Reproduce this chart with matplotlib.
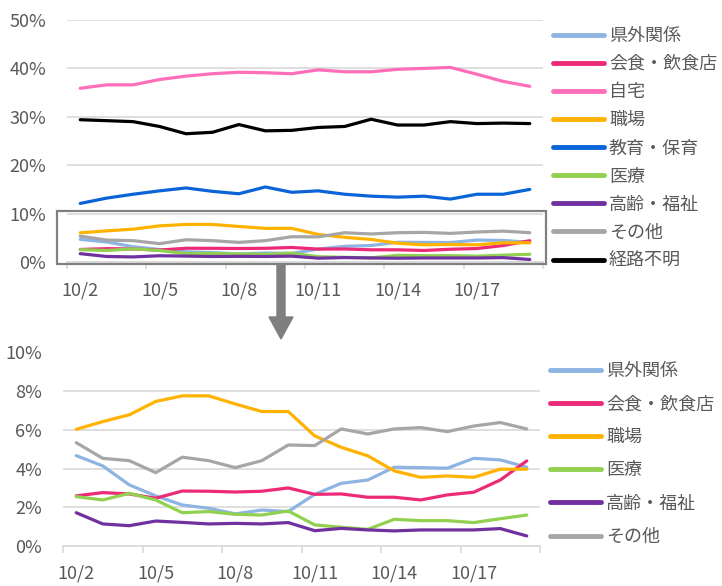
import numpy as np
import matplotlib
matplotlib.use('Agg')
import matplotlib.pyplot as plt
from matplotlib.patches import Rectangle, FancyArrow
from matplotlib.ticker import FuncFormatter, FixedLocator

plt.rcParams['font.family'] = ['Noto Sans CJK JP', 'DejaVu Sans']

dates = ['10/2', '10/3', '10/4', '10/5', '10/6', '10/7', '10/8', '10/9', '10/10',
         '10/11', '10/12', '10/13', '10/14', '10/15', '10/16', '10/17', '10/18', '10/19']

# 感染経路別の割合 (%)
kengai = [4.67, 4.14, 3.16, 2.59, 2.12, 1.95, 1.66, 1.86, 1.78, 2.67, 3.24, 3.41, 4.07, 4.05, 4.02, 4.53, 4.45, 4.07]
kaishoku = [2.59, 2.76, 2.69, 2.47, 2.84, 2.83, 2.79, 2.83, 3.00, 2.67, 2.69, 2.52, 2.52, 2.38, 2.64, 2.78, 3.41, 4.40]
jitaku = [35.9, 36.6, 36.6, 37.7, 38.4, 38.9, 39.2, 39.1, 38.9, 39.7, 39.3, 39.3, 39.8, 40.0, 40.2, 38.8, 37.3, 36.3]
shokuba = [6.03, 6.43, 6.78, 7.47, 7.76, 7.76, 7.34, 6.95, 6.95, 5.69, 5.10, 4.66, 3.88, 3.55, 3.62, 3.55, 3.97, 3.97]
kyoiku = [12.1, 13.2, 14.0, 14.7, 15.3, 14.6, 14.1, 15.5, 14.4, 14.7, 14.0, 13.6, 13.4, 13.6, 13.0, 14.0, 14.0, 15.0]
iryo = [2.55, 2.38, 2.72, 2.38, 1.72, 1.78, 1.64, 1.60, 1.81, 1.09, 0.97, 0.86, 1.38, 1.31, 1.31, 1.21, 1.41, 1.60]
koreifukushi = [1.72, 1.14, 1.05, 1.29, 1.22, 1.14, 1.17, 1.14, 1.21, 0.79, 0.91, 0.83, 0.78, 0.83, 0.83, 0.83, 0.90, 0.52]
sonota = [5.34, 4.53, 4.41, 3.79, 4.59, 4.41, 4.05, 4.41, 5.22, 5.19, 6.05, 5.79, 6.05, 6.12, 5.91, 6.20, 6.38, 6.05]
fumei = [29.4, 29.2, 29.0, 28.0, 26.5, 26.8, 28.4, 27.1, 27.2, 27.8, 28.0, 29.5, 28.3, 28.3, 29.0, 28.6, 28.7, 28.6]

series = [
    ('県外関係', kengai, '#8DB4E2'),
    ('会食・飲食店', kaishoku, '#EC2A78'),
    ('自宅', jitaku, '#FF6EB9'),
    ('職場', shokuba, '#FFB300'),
    ('教育・保育', kyoiku, '#0A64D8'),
    ('医療', iryo, '#92D050'),
    ('高齢・福祉', koreifukushi, '#7030A0'),
    ('その他', sonota, '#A6A6A6'),
    ('経路不明', fumei, '#000000'),
]
zoom_names = ['県外関係', '会食・飲食店', '職場', '医療', '高齢・福祉', 'その他']

W, H = 722, 586
fig = plt.figure(figsize=(W / 100, H / 100), dpi=100)
ax1 = fig.add_axes([67 / W, 1 - 262 / H, 476 / W, 242 / H])
ax2 = fig.add_axes([63 / W, 1 - 546 / H, 477 / W, 193.5 / H])

x = np.arange(len(dates))
txt = '#595959'
grid = '#D9D9D9'


def style(ax, ymax, step, xpad):
    ax.set_xlim(-0.5, len(dates) - 0.5)
    ax.set_ylim(0, ymax)
    ax.set_yticks(np.arange(0, ymax + 0.01, step))
    ax.yaxis.set_major_formatter(FuncFormatter(lambda v, p: '%d%%' % round(v)))
    ax.grid(axis='y', color=grid, lw=1.2)
    ax.set_axisbelow(True)
    for s in ['left', 'right', 'top']:
        ax.spines[s].set_visible(False)
    ax.spines['bottom'].set_color(grid)
    ax.spines['bottom'].set_linewidth(1.2)
    ax.xaxis.set_major_locator(FixedLocator(x[::3]))
    ax.set_xticklabels(dates[::3])
    ax.xaxis.set_minor_locator(FixedLocator(np.arange(-0.5, len(dates), 3)))
    ax.tick_params(axis='x', which='major', length=0, pad=xpad, labelsize=13, labelcolor=txt)
    ax.tick_params(axis='x', which='minor', length=5, width=1.2, color=grid, direction='out')
    ax.tick_params(axis='y', length=0, pad=15, labelsize=13, labelcolor=txt)
    ax.set_facecolor('none')


style(ax1, 50, 10, 14)
style(ax2, 10, 2, 13)

for name, vals, c in series:
    ax1.plot(x, vals, color=c, lw=2.3, label=name, solid_capstyle='round', clip_on=False)
for name, vals, c in series:
    if name in zoom_names:
        ax2.plot(x, vals, color=c, lw=2.3, label=name, solid_capstyle='round', clip_on=False)

leg_kw = dict(frameon=False, fontsize=13, handlelength=2.8, handletextpad=0.3,
              borderaxespad=0, borderpad=0, labelcolor=txt)
l1 = ax1.legend(loc='upper left', bbox_to_anchor=(553 / W, 1 - 27 / H),
                bbox_transform=fig.transFigure, labelspacing=0.56, **leg_kw)
l2 = ax2.legend(loc='upper left', bbox_to_anchor=(550 / W, 1 - 362 / H),
                bbox_transform=fig.transFigure, labelspacing=0.84, **leg_kw)
for lg in (l1, l2):
    for h in lg.get_lines():
        h.set_linewidth(3.5)

# 拡大範囲の枠と矢印
ax1.add_patch(Rectangle((-0.88, -0.45), 18.5, 10.95, fill=False, ec='#808080',
                        lw=1.6, clip_on=False, zorder=5))
fig.patches.append(FancyArrow(281 / W, 1 - 265 / H, 0, -52 / H, width=8 / W,
                              head_width=24 / W, head_length=22 / H,
                              length_includes_head=False, color='#7F7F7F',
                              transform=fig.transFigure, figure=fig))

fig.savefig('out.png', dpi=100)
